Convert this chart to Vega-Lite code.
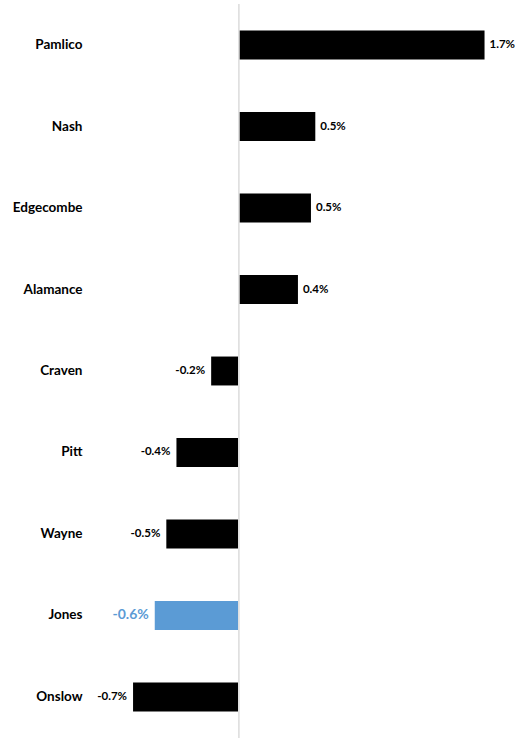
{
  "$schema": "https://vega.github.io/schema/vega-lite/v6.json",
  "width": 405,
  "height": 734,
  "autosize": {"type": "none"},
  "padding": {"left": 94, "top": 4, "right": 16, "bottom": 2},
  "background": "white",
  "config": {
    "view": {"stroke": null},
    "font": "Lato",
    "locale": {"number": {"decimal": ".", "thousands": ",", "grouping": [3], "currency": ["$", ""], "minus": "-"}}
  },
  "data": {
    "values": [
      {"county": "Pamlico", "v": 0.0170},
      {"county": "Nash", "v": 0.0053},
      {"county": "Edgecombe", "v": 0.0050},
      {"county": "Alamance", "v": 0.0041},
      {"county": "Craven", "v": -0.0019},
      {"county": "Pitt", "v": -0.0043},
      {"county": "Wayne", "v": -0.0050},
      {"county": "Jones", "v": -0.0058},
      {"county": "Onslow", "v": -0.0073}
    ]
  },
  "encoding": {
    "y": {
      "field": "county",
      "type": "nominal",
      "sort": null,
      "scale": {"paddingInner": 0.645, "paddingOuter": 0.326},
      "axis": {
        "title": null,
        "domain": false,
        "ticks": false,
        "labelPadding": 12,
        "labelFontSize": 13.5,
        "labelFontWeight": "bold",
        "labelColor": "#000000",
        "labelFont": "Lato"
      }
    }
  },
  "layer": [
    {
      "mark": {"type": "bar"},
      "encoding": {
        "x": {
          "field": "v",
          "type": "quantitative",
          "scale": {"domain": [-0.01, 0.018], "nice": false, "zero": false},
          "axis": null
        },
        "color": {
          "condition": {"test": "datum.county === 'Jones'", "value": "#5B9BD5"},
          "value": "#000000"
        }
      }
    },
    {
      "mark": {"type": "rule", "color": "#e0e0e0", "strokeWidth": 1},
      "encoding": {"x": {"datum": 0, "type": "quantitative"}, "y": null}
    },
    {
      "transform": [{"filter": "datum.v > 0"}],
      "mark": {"type": "text", "align": "left", "dx": 5, "fontSize": 11.5, "fontWeight": "bold", "color": "#000000", "baseline": "middle"},
      "encoding": {
        "x": {"field": "v", "type": "quantitative"},
        "text": {"field": "v", "type": "quantitative", "format": ".1%"}
      }
    },
    {
      "transform": [{"filter": "datum.v < 0 && datum.county !== 'Jones'"}],
      "mark": {"type": "text", "align": "right", "dx": -6, "fontSize": 11.5, "fontWeight": "bold", "color": "#000000", "baseline": "middle"},
      "encoding": {
        "x": {"field": "v", "type": "quantitative"},
        "text": {"field": "v", "type": "quantitative", "format": ".1%"}
      }
    },
    {
      "transform": [{"filter": "datum.county === 'Jones'"}],
      "mark": {"type": "text", "align": "right", "dx": -6, "fontSize": 14, "fontWeight": "bold", "color": "#5B9BD5", "baseline": "middle"},
      "encoding": {
        "x": {"field": "v", "type": "quantitative"},
        "text": {"field": "v", "type": "quantitative", "format": ".1%"}
      }
    }
  ]
}
